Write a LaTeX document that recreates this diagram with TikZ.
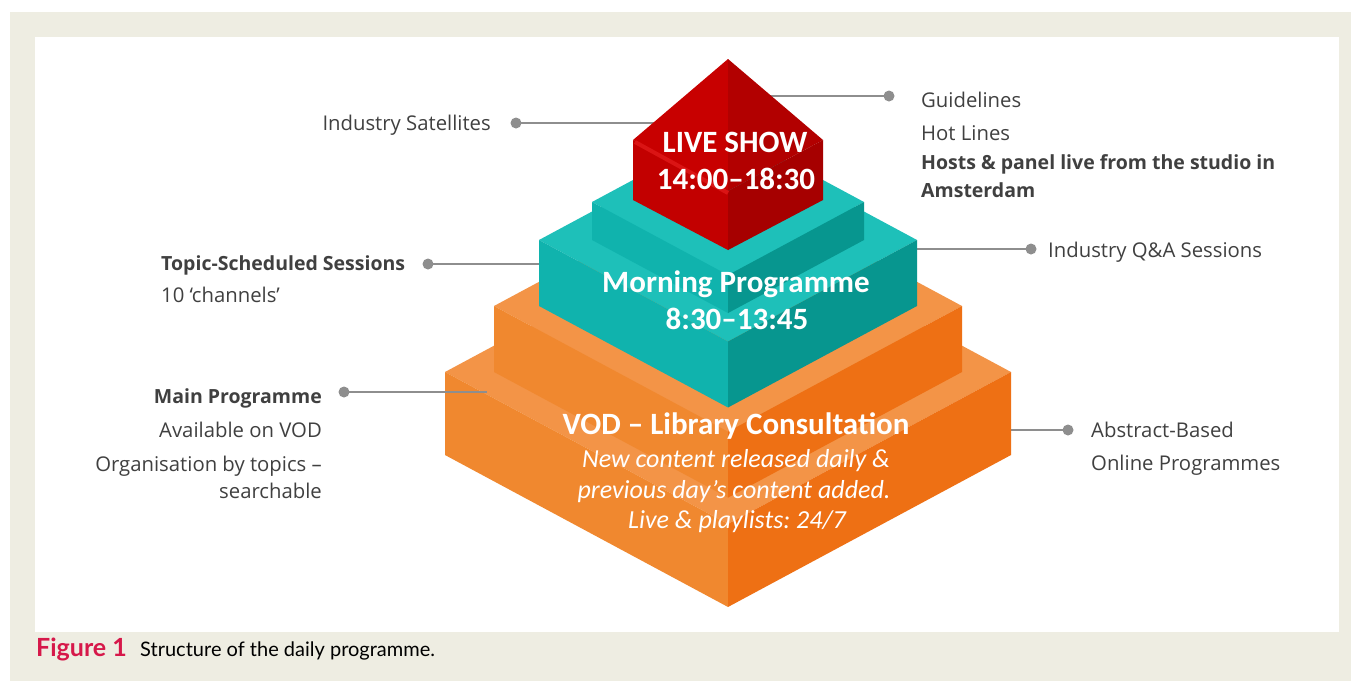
\documentclass[tikz,border=0pt]{standalone}
\usepackage{fontspec}
\setmainfont{Open Sans}
\newfontfamily\calfont{Carlito}
\newfontfamily\capfont{Lato}
\frenchspacing
\definecolor{beige}{RGB}{238,237,226}
\definecolor{lbl}{RGB}{64,64,64}
\definecolor{conn}{RGB}{142,142,142}
\definecolor{orTop}{RGB}{243,148,71}
\definecolor{orLeft}{RGB}{240,136,47}
\definecolor{orRight}{RGB}{238,112,20}
\definecolor{tlTop}{RGB}{30,192,185}
\definecolor{tlLeft}{RGB}{16,179,173}
\definecolor{tlRight}{RGB}{7,150,143}
\definecolor{rdRoofL}{RGB}{200,0,0}
\definecolor{rdRoofR}{RGB}{178,0,0}
\definecolor{rdLeft}{RGB}{194,0,0}
\definecolor{rdRight}{RGB}{166,0,0}
\definecolor{rdBevel}{RGB}{218,20,20}
\definecolor{figred}{RGB}{214,24,74}
\newcommand\drawtier[6]{%
  \pgfmathsetmacro\tw{#1}\pgfmathsetmacro\ty{#2}%
  \pgfmathsetmacro\th{#3}\pgfmathsetmacro\td{0.537*#1}%
  \fill[#4] (728-\tw,\ty) -- (728,\ty-\td) -- (728+\tw,\ty) -- (728,\ty+\td) -- cycle;
  \fill[#5] (728-\tw,\ty) -- (728,\ty+\td) -- (728,\ty+\td+\th) -- (728-\tw,\ty+\th) -- cycle;
  \fill[#6] (728,\ty+\td) -- (728+\tw,\ty) -- (728+\tw,\ty+\th) -- (728,\ty+\td+\th) -- cycle;
}
\tikzset{
  lab/.style={font=\fontsize{20.3}{24}\selectfont, text=lbl, inner sep=0pt},
  blab/.style={lab, font=\fontsize{19.5}{24}\selectfont\bfseries},
  ptitle/.style={font=\calfont\fontsize{31}{34}\selectfont\bfseries, text=white, inner sep=0pt, anchor=base},
  pit/.style={font=\calfont\fontsize{26}{29}\selectfont\itshape, text=white, inner sep=0pt, anchor=base},
  dot/.style={circle, fill=conn, inner sep=0pt, minimum size=11pt},
  cline/.style={draw=conn, line width=2.8pt}
}
\begin{document}
\begin{tikzpicture}[x=1pt,y=-1pt]
\useasboundingbox (0,0) rectangle (1351,681);
\fill[white] (0,0) rectangle (1351,681);
\fill[beige] (10,12) rectangle (1351,681);
\fill[white] (35,37) rectangle (1339,632);

% connectors (drawn beneath the pyramid)
\coordinate (e1) at (670,123);
\coordinate (e2) at (760,96);
\coordinate (e3) at (545,264);
\coordinate (e4) at (912,249);
\coordinate (e5) at (487,392);
\coordinate (e6) at (1008,430);
\node[dot] (d1) at (516,123) {};
\node[dot] (d2) at (889,96) {};
\node[dot] (d3) at (428,264) {};
\node[dot] (d4) at (1031,249) {};
\node[dot] (d5) at (344,392) {};
\node[dot] (d6) at (1068,430) {};
\draw[cline] (d1.center) -- (e1);
\draw[cline] (d2.center) -- (e2);
\draw[cline] (d3.center) -- (e3);
\draw[cline] (d4.center) -- (e4);
\draw[cline] (d6.center) -- (e6);

% pyramid
\drawtier{283}{372}{83}{orTop}{orLeft}{orRight}
\drawtier{234}{306}{66}{orTop}{orLeft}{orRight}
\draw[cline] (d5.center) -- (e5);
\drawtier{189}{240}{66}{tlTop}{tlLeft}{tlRight}
\drawtier{136}{202}{38}{tlTop}{tlLeft}{tlRight}
% red box with roof
\fill[rdRoofL] (633,140) -- (728,59) -- (728,191) -- cycle;
\fill[rdRoofR] (728,59) -- (823,140) -- (728,191) -- cycle;
\fill[rdLeft] (633,140) -- (728,191) -- (728,250) -- (633,200) -- cycle;
\fill[rdRight] (728,191) -- (823,140) -- (823,200) -- (728,250) -- cycle;
\draw[rdBevel, line width=4pt] (635,142) -- (728,193);

% pyramid texts
\node[ptitle] (t1) at (735,152) {LIVE SHOW};
\node[ptitle] (t2) at (736,189) {14:00–18:30};
\node[ptitle] (t3) at (736,292) {Morning Programme};
\node[ptitle] (t4) at (737,329) {8:30–13:45};
\node[ptitle] (t5) at (736,434) {VOD – Library Consultation};
\node[pit] (t6) at (736,467) {New content released daily \&};
\node[pit] (t7) at (734,498) {previous day’s content added.};
\node[pit] (t8) at (737,528) {Live \& playlists: 24/7};

% labels
\node[lab, anchor=base east] (l1) at (491,130) {Industry Satellites};
\node[lab, anchor=base west] (l2) at (921,107) {Guidelines};
\node[lab, anchor=base west] (l3) at (921,140) {Hot Lines};
\node[blab, anchor=base west] (l4) at (921,169) {Hosts \& panel live from the studio in};
\node[blab, anchor=base west] (l5) at (921,197) {Amsterdam};
\node[lab, anchor=base west] (l6) at (1048,257) {Industry Q\&A Sessions};
\node[blab, anchor=base west] (l7) at (161,270) {Topic-Scheduled Sessions};
\node[lab, anchor=base west] (l8) at (161,302) {10 ‘channels’};
\node[blab, anchor=base east] (l9) at (322,403) {Main Programme};
\node[lab, anchor=base east] (l10) at (322,437) {Available on VOD};
\node[lab, anchor=base east] (l11) at (322,471) {Organisation by topics –};
\node[lab, anchor=base east] (l12) at (322,498) {searchable};
\node[lab, anchor=base west] (l13) at (1091,437) {Abstract-Based};
\node[lab, anchor=base west] (l14) at (1091,470) {Online Programmes};

% caption
\node[font=\capfont\fontsize{25}{28}\selectfont\bfseries, text=figred, inner sep=0pt, anchor=base west] (cap1) at (36,656) {Figure 1};
\node[font=\capfont\fontsize{20}{24}\selectfont, text=black, inner sep=0pt, anchor=base west] (cap2) at (140,656) {Structure of the daily programme.};
\end{tikzpicture}
\end{document}
